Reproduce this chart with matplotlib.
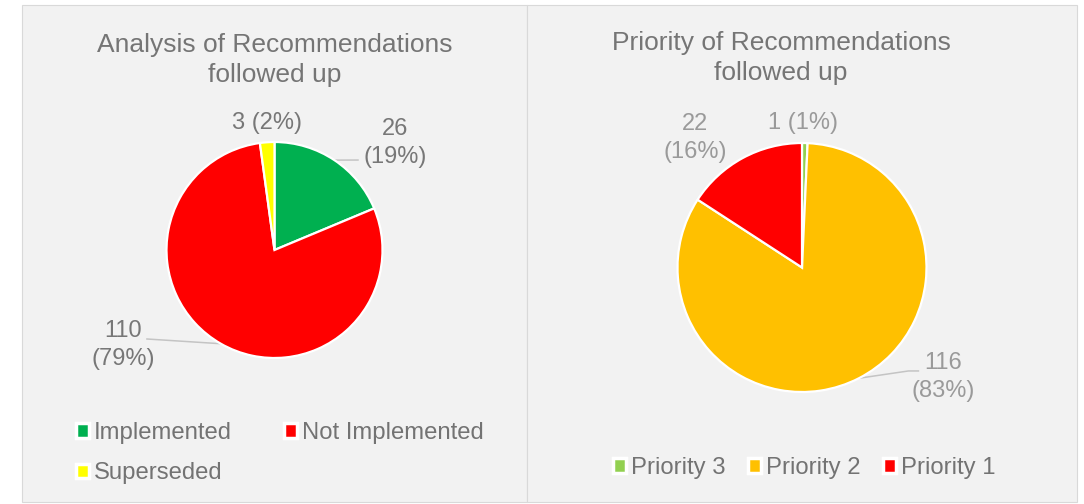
import matplotlib
matplotlib.use('Agg')
import matplotlib.pyplot as plt
from matplotlib.patches import Rectangle, Patch
import numpy as np

plt.rcParams['font.family'] = ['Liberation Sans', 'DejaVu Sans']

# ---------------- data ----------------
left_title = "Analysis of Recommendations\nfollowed up"
left_categories = ["Implemented", "Not Implemented", "Superseded"]
left_values = [26, 110, 3]
left_colors = ["#00b050", "#ff0000", "#ffff00"]

right_title = "Priority of Recommendations\nfollowed up"
right_categories = ["Priority 3", "Priority 2", "Priority 1"]
right_values = [1, 116, 22]
right_colors = ["#92d050", "#ffc000", "#ff0000"]

# ---------------- layout ----------------
W, H = 1084, 504
fig = plt.figure(figsize=(W / 100, H / 100), dpi=100)
fig.patch.set_facecolor('white')


def fx(x):
    return x / W


def fy(y):
    return 1 - y / H


# panel backgrounds
for (x0, x1) in [(22, 527), (527, 1077)]:
    fig.patches.append(Rectangle((fx(x0), fy(502)), fx(x1) - fx(x0), fy(5) - fy(502),
                                 transform=fig.transFigure, facecolor='#f2f2f2',
                                 edgecolor='#d9d9d9', linewidth=0.8, zorder=-10))

TITLE_COLOR = '#757575'
LEGEND_COLOR = '#737373'


def draw_pie(cx, cy, r, values, colors, label_layout, leaders, label_color):
    ax = fig.add_axes([fx(cx - r), fy(cy + r), 2 * r / W, 2 * r / H])
    ax.set_zorder(5)
    wedges, _ = ax.pie(values, colors=colors, startangle=90, counterclock=False,
                       radius=1, wedgeprops=dict(edgecolor='white', linewidth=1.6))
    ax.set_xlim(-1, 1)
    ax.set_ylim(-1, 1)
    ax.axis('off')
    total = sum(values)
    for i, (v, w) in enumerate(zip(values, wedges)):
        pct = round(v / total * 100)
        dx, dy, multi = label_layout[i]
        sep = "\n" if multi else " "
        ax.text(dx, dy, f"{v}{sep}({pct}%)", ha='center', va='center',
                fontsize=17, color=label_color, linespacing=1.38)
        if leaders[i] is not None:
            mid = np.deg2rad((w.theta1 + w.theta2) / 2)
            xs = [np.cos(mid)] + [p[0] for p in leaders[i]]
            ys = [np.sin(mid)] + [p[1] for p in leaders[i]]
            ax.plot(xs, ys, color='#c4c4c4', linewidth=1.1, clip_on=False, zorder=0.5)
    return ax


# left pie
draw_pie(274.5, 250, 108, left_values, left_colors,
         label_layout=[(1.116, 0.99, True), (-1.403, -0.88, True), (-0.07, 1.176, False)],
         leaders=[[(0.773, 0.833)], [(-1.181, -0.824)], None],
         label_color='#777777')

# right pie
draw_pie(802, 267.5, 124.5, right_values, right_colors,
         label_layout=[(0.008, 1.16, False), (1.133, -0.88, True), (-0.859, 1.04, True)],
         leaders=[None, [(0.855, -0.831), (0.935, -0.831)], None],
         label_color='#9a9a9a')

# titles
fig.text(fx(274.5), fy(60), left_title, ha='center', va='center', fontsize=19,
         color=TITLE_COLOR, linespacing=1.33)
fig.text(fx(781), fy(58), right_title, ha='center', va='center', fontsize=19,
         color=TITLE_COLOR, linespacing=1.33)

# legends
def handles_for(colors):
    return [Patch(facecolor=c, edgecolor='white', linewidth=2.5) for c in colors]


lh = handles_for(left_colors)
order = [0, 2, 1]  # row-major look with 2 columns
fig.legend([lh[i] for i in order], [left_categories[i] for i in order],
           loc='upper left', bbox_to_anchor=(fx(76), fy(422)),
           bbox_transform=fig.transFigure, ncol=2, frameon=False, fontsize=17.2,
           handlelength=0.53, handleheight=0.53, handletextpad=0.22,
           columnspacing=2.2, labelspacing=0.76, borderpad=0, borderaxespad=0,
           labelcolor=LEGEND_COLOR)

rh = handles_for(right_colors)
fig.legend(rh, right_categories,
           loc='upper left', bbox_to_anchor=(fx(613), fy(457)),
           bbox_transform=fig.transFigure, ncol=3, frameon=False, fontsize=17.2,
           handlelength=0.53, handleheight=0.53, handletextpad=0.22,
           columnspacing=0.95, borderpad=0, borderaxespad=0,
           labelcolor=LEGEND_COLOR)

fig.savefig('out.png', dpi=100, facecolor='white')
